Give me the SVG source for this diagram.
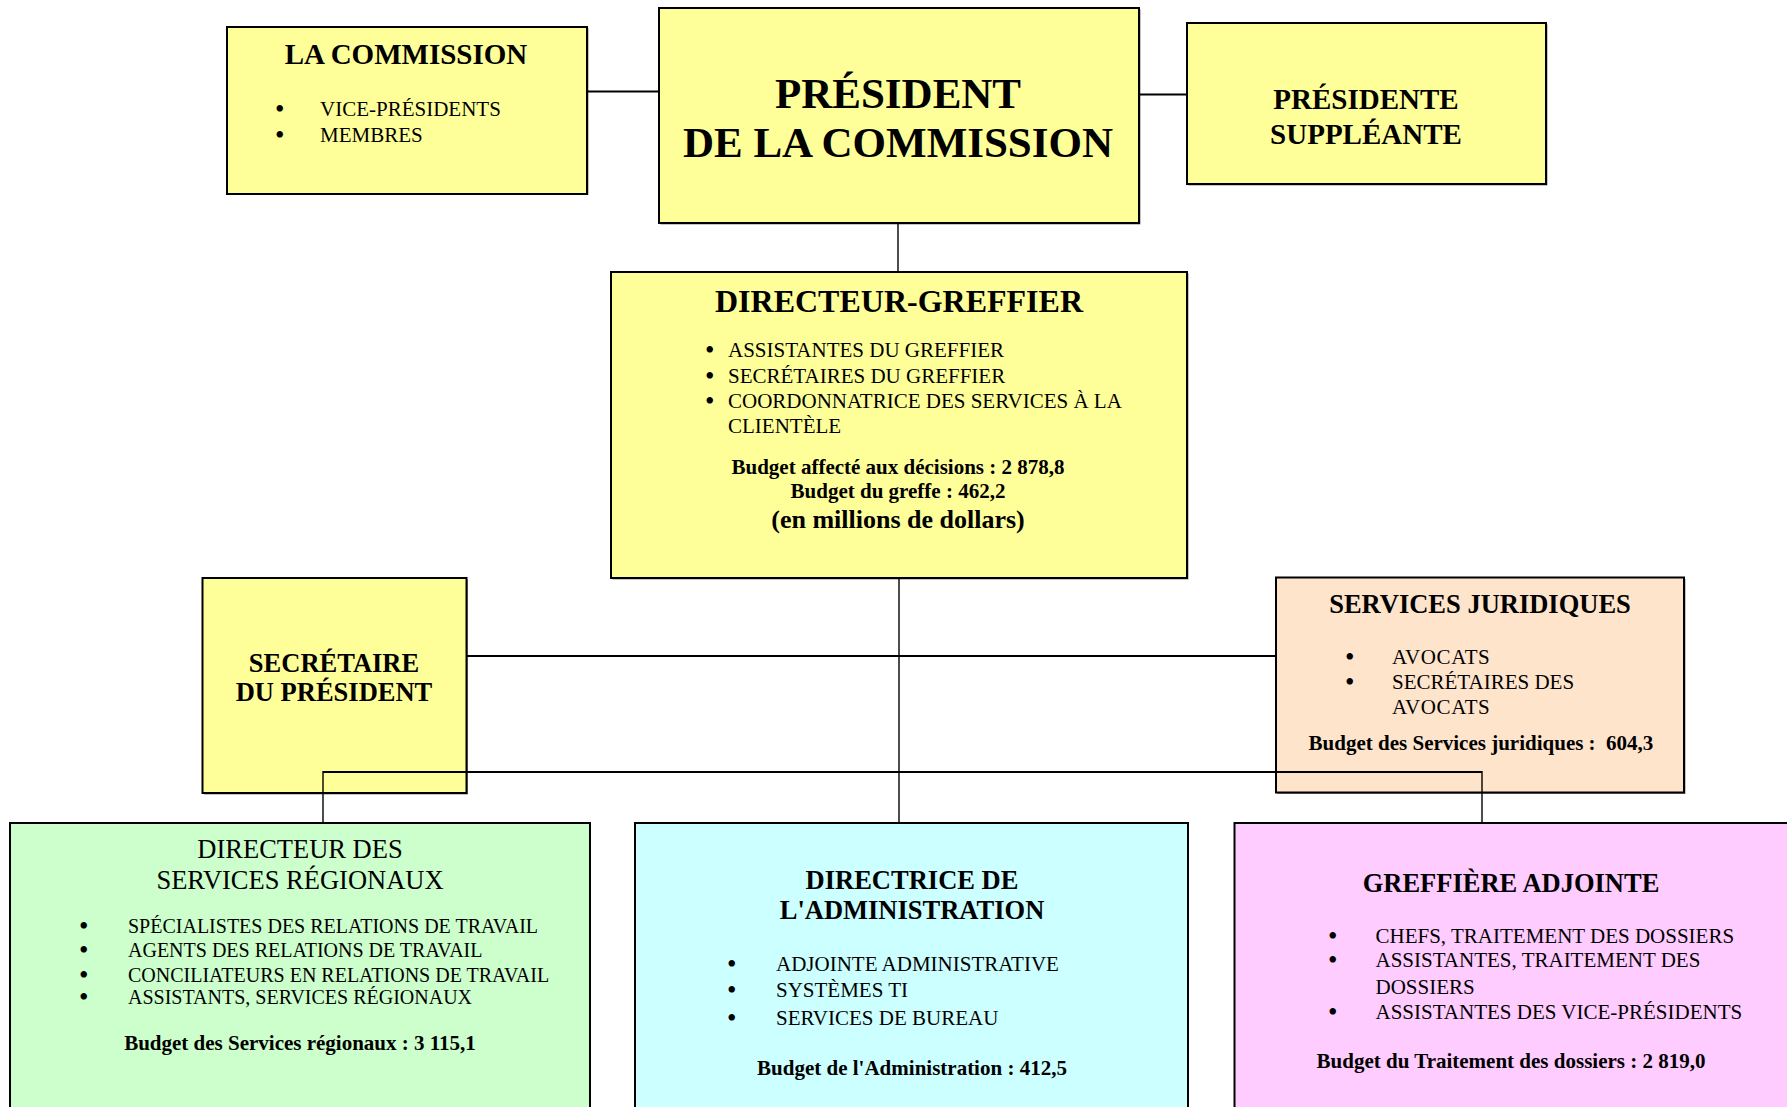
<svg xmlns="http://www.w3.org/2000/svg" width="1787" height="1107" viewBox="0 0 1787 1107">
<style>
text{font-family:"Liberation Serif","Times New Roman",serif;fill:#000}
.b{font-weight:bold}
.c{text-anchor:middle}
.r21{font-size:21px}
.r20{font-size:20px}
.bu{font-size:27px}
.box{stroke:#000;stroke-width:2}
.sh{fill:#8a8a8a}
.y{fill:#FFFF99}
.p{fill:#FFE4CC}
.g{fill:#CCFFCC}
.cy{fill:#CCFFFF}
.m{fill:#FFCCFF}
.h{stroke:#000;stroke-width:2;fill:none}
.v{stroke:#000;stroke-width:1.4;fill:none}
</style>
<rect width="1787" height="1107" fill="#fff"/>

<g id="la-commission">
<rect class="sh" x="228.5" y="28" width="360" height="167"/>
<rect class="box y" x="227" y="27" width="360" height="167"/>
<text class="b c" x="406" y="64" font-size="29">LA COMMISSION</text>
<text class="bu" x="275" y="118">•</text><text class="r21" x="320" y="116">VICE-PRÉSIDENTS</text>
<text class="bu" x="275" y="144">•</text><text class="r21" x="320" y="142">MEMBRES</text>
</g>

<g id="president">
<rect class="sh" x="660.5" y="9.5" width="480" height="215"/>
<rect class="box y" x="659" y="8" width="480" height="215"/>
<text class="b c" x="898" y="108" font-size="43">PRÉSIDENT</text>
<text class="b c" x="898" y="157" font-size="43">DE LA COMMISSION</text>
</g>

<g id="presidente-suppleante">
<rect class="sh" x="1188.5" y="24.5" width="359" height="161"/>
<rect class="box y" x="1187" y="23" width="359" height="161"/>
<text class="b c" x="1366" y="109" font-size="29">PRÉSIDENTE</text>
<text class="b c" x="1366" y="144" font-size="29">SUPPLÉANTE</text>
</g>

<g id="directeur-greffier">
<rect class="sh" x="612.5" y="273.5" width="576" height="306"/>
<rect class="box y" x="611" y="272" width="576" height="306"/>
<text class="b c" x="899" y="312" font-size="32">DIRECTEUR-GREFFIER</text>
<text class="bu" x="705" y="359">•</text><text class="r21" x="728" y="357">ASSISTANTES DU GREFFIER</text>
<text class="bu" x="705" y="385">•</text><text class="r21" x="728" y="383">SECRÉTAIRES DU GREFFIER</text>
<text class="bu" x="705" y="410">•</text><text class="r21" x="728" y="408">COORDONNATRICE DES SERVICES À LA</text>
<text class="r21" x="728" y="433">CLIENTÈLE</text>
<text class="b c r21" x="898" y="474">Budget affecté aux décisions : 2 878,8</text>
<text class="b c r21" x="898" y="498">Budget du greffe : 462,2</text>
<text class="b c" x="898" y="528" font-size="26">(en millions de dollars)</text>
</g>

<g id="secretaire-president">
<rect class="sh" x="204" y="579.5" width="264" height="215"/>
<rect class="box y" x="202.5" y="578" width="264" height="215"/>
<text class="b c" x="334" y="672" font-size="26.5">SECRÉTAIRE</text>
<text class="b c" x="334" y="701" font-size="26.5">DU PRÉSIDENT</text>
</g>

<g id="services-juridiques">
<rect class="sh" x="1277.5" y="579" width="408" height="215"/>
<rect class="box p" x="1276" y="577.5" width="408" height="215"/>
<text class="b c" x="1480" y="613" font-size="26.5">SERVICES JURIDIQUES</text>
<text class="bu" x="1345" y="666">•</text><text class="r21" x="1392" y="664" letter-spacing="0.6">AVOCATS</text>
<text class="bu" x="1345" y="691">•</text><text class="r21" x="1392" y="689">SECRÉTAIRES DES</text>
<text class="r21" x="1392" y="714" letter-spacing="0.6">AVOCATS</text>
<text class="b c r21" x="1481" y="750" xml:space="preserve">Budget des Services juridiques :  604,3</text>
</g>

<g id="directeur-services-regionaux">
<rect class="box g" x="10" y="823" width="580" height="300"/>
<text class="c" x="300" y="858" font-size="26.5">DIRECTEUR DES</text>
<text class="c" x="300" y="889" font-size="26.5">SERVICES RÉGIONAUX</text>
<text class="bu" x="79" y="935">•</text><text class="r20" x="128" y="933">SPÉCIALISTES DES RELATIONS DE TRAVAIL</text>
<text class="bu" x="79" y="959">•</text><text class="r20" x="128" y="957">AGENTS DES RELATIONS DE TRAVAIL</text>
<text class="bu" x="79" y="984">•</text><text class="r20" x="128" y="982">CONCILIATEURS EN RELATIONS DE TRAVAIL</text>
<text class="bu" x="79" y="1006">•</text><text class="r20" x="128" y="1004">ASSISTANTS, SERVICES RÉGIONAUX</text>
<text class="b c r21" x="300" y="1050">Budget des Services régionaux : 3 115,1</text>
</g>

<g id="directrice-administration">
<rect class="box cy" x="635" y="823" width="553" height="300"/>
<text class="b c" x="912" y="889" font-size="26.5">DIRECTRICE DE</text>
<text class="b c" x="912" y="919" font-size="26.5">L'ADMINISTRATION</text>
<text class="bu" x="727" y="973">•</text><text class="r21" x="776" y="971">ADJOINTE ADMINISTRATIVE</text>
<text class="bu" x="727" y="999">•</text><text class="r21" x="776" y="997">SYSTÈMES TI</text>
<text class="bu" x="727" y="1027">•</text><text class="r21" x="776" y="1025">SERVICES DE BUREAU</text>
<text class="b c r21" x="912" y="1075">Budget de l'Administration : 412,5</text>
</g>

<g id="greffiere-adjointe">
<rect class="box m" x="1234.5" y="823" width="560" height="300"/>
<text class="b c" x="1511" y="892" font-size="26.5">GREFFIÈRE ADJOINTE</text>
<text class="bu" x="1328" y="945">•</text><text class="r21" x="1375.5" y="943">CHEFS, TRAITEMENT DES DOSSIERS</text>
<text class="bu" x="1328" y="969">•</text><text class="r21" x="1375.5" y="967">ASSISTANTES, TRAITEMENT DES</text>
<text class="r21" x="1375.5" y="994">DOSSIERS</text>
<text class="bu" x="1328" y="1021">•</text><text class="r21" x="1375.5" y="1019">ASSISTANTES DES VICE-PRÉSIDENTS</text>
<text class="b c r21" x="1511" y="1068">Budget du Traitement des dossiers : 2 819,0</text>
</g>

<g id="connectors">
<line class="h" x1="588" y1="91.5" x2="659" y2="91.5"/>
<line class="h" x1="1140" y1="94.5" x2="1187" y2="94.5"/>
<line class="v" x1="898" y1="224" x2="898" y2="272"/>
<line class="v" x1="899" y1="579" x2="899" y2="823"/>
<line class="h" x1="467" y1="656" x2="1276" y2="656"/>
<line class="h" x1="323" y1="772" x2="1482" y2="772"/>
<line class="v" x1="323" y1="771" x2="323" y2="823"/>
<line class="v" x1="1482" y1="771" x2="1482" y2="823"/>
</g>
</svg>
